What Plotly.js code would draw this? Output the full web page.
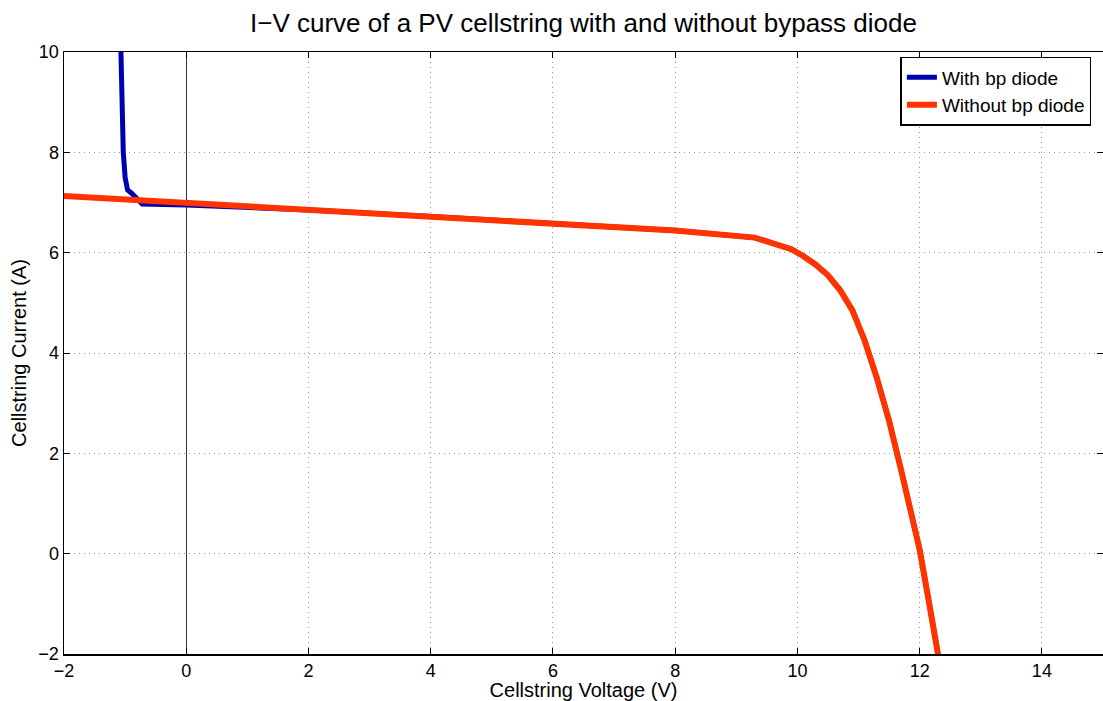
<!DOCTYPE html>
<html>
<head>
<meta charset="utf-8">
<script src="https://cdn.plot.ly/plotly-3.0.1.min.js"></script>
<style>
  html, body { margin: 0; padding: 0; background: #fff; }
  #chart { width: 1103px; height: 701px; }
</style>
</head>
<body>
<div id="chart"></div>
<script>
// Cellstring voltage (V) and current (A) without bypass diode
const voltNoBp = [-2, 0, 2, 4, 6, 8, 9.3, 9.9, 10.1, 10.3, 10.5, 10.7, 10.9, 11.1, 11.3, 11.5, 11.7, 11.9, 12.0, 12.15, 12.3, 12.4];
const currNoBp = [7.13, 6.99, 6.86, 6.72, 6.58, 6.44, 6.30, 6.07, 5.93, 5.76, 5.55, 5.25, 4.85, 4.25, 3.5, 2.65, 1.65, 0.62, 0.08, -0.95, -1.98, -2.7];

// Cellstring voltage (V) and current (A) with bypass diode
const voltBp = [-1.08, -1.07, -1.05, -1.03, -1.0, -0.96, -0.89, -0.8, -0.72, 0, 2, 4, 6, 8, 9.3, 9.9, 10.1, 10.3, 10.5, 10.7, 10.9, 11.1, 11.3, 11.5, 11.7, 11.9, 12.0, 12.15, 12.3, 12.4];
const currBp = [10.6, 10.0, 9.0, 8.0, 7.5, 7.25, 7.18, 7.05, 6.97, 6.95, 6.85, 6.72, 6.58, 6.44, 6.30, 6.07, 5.93, 5.76, 5.55, 5.25, 4.85, 4.25, 3.5, 2.65, 1.65, 0.62, 0.08, -0.95, -1.98, -2.7];

const seriesNames = ['With bp diode', 'Without bp diode'];
const xTicks = [-2, 0, 2, 4, 6, 8, 10, 12, 14];
const yTicks = [-2, 0, 2, 4, 6, 8, 10];

const FONT = 'Liberation Sans, Arial, Helvetica, sans-serif';

const traces = [
  {
    x: voltBp, y: currBp, name: seriesNames[0], mode: 'lines',
    line: { color: '#0000b0', width: 5 }
  },
  {
    x: voltNoBp, y: currNoBp, name: seriesNames[1], mode: 'lines',
    line: { color: '#ff3300', width: 6 }
  }
];

const axisCommon = {
  showline: true, linecolor: '#000', linewidth: 1.5, mirror: 'ticks',
  ticks: 'inside', ticklen: 6, tickcolor: '#000', tickwidth: 1,
  showgrid: true, gridcolor: '#999', griddash: '1px,4px', gridwidth: 1,
  tickfont: { family: FONT, size: 18, color: '#000' },
  automargin: false
};

const layout = {
  width: 1103, height: 701,
  margin: { l: 64, r: 0, t: 52, b: 47 },
  paper_bgcolor: '#fff', plot_bgcolor: '#fff',
  font: { family: FONT, color: '#000' },
  title: {
    text: 'I\u2212V curve of a PV cellstring with and without bypass diode',
    font: { family: FONT, size: 26, color: '#000' },
    x: 0.529, xanchor: 'center', y: 0.968, yanchor: 'middle'
  },
  xaxis: Object.assign({}, axisCommon, {
    range: [-2, 15], tickvals: xTicks,
    zeroline: true, zerolinecolor: '#333', zerolinewidth: 1,
    title: { text: 'Cellstring Voltage (V)', font: { family: FONT, size: 20, color: '#000' }, standoff: 0 }
  }),
  yaxis: Object.assign({}, axisCommon, {
    range: [-2, 10], tickvals: yTicks, zeroline: false,
    title: { text: 'Cellstring Current (A)', font: { family: FONT, size: 20, color: '#000' }, standoff: 6 }
  }),
  showlegend: true,
  legend: {
    x: 0.805, xanchor: 'left', y: 0.992, yanchor: 'top',
    bgcolor: '#fff', bordercolor: '#000', borderwidth: 1.5,
    font: { family: FONT, size: 19, color: '#000' },
    tracegroupgap: 0
  }
};

Plotly.newPlot('chart', traces, layout, { displayModeBar: false, staticPlot: true });
</script>
</body>
</html>
